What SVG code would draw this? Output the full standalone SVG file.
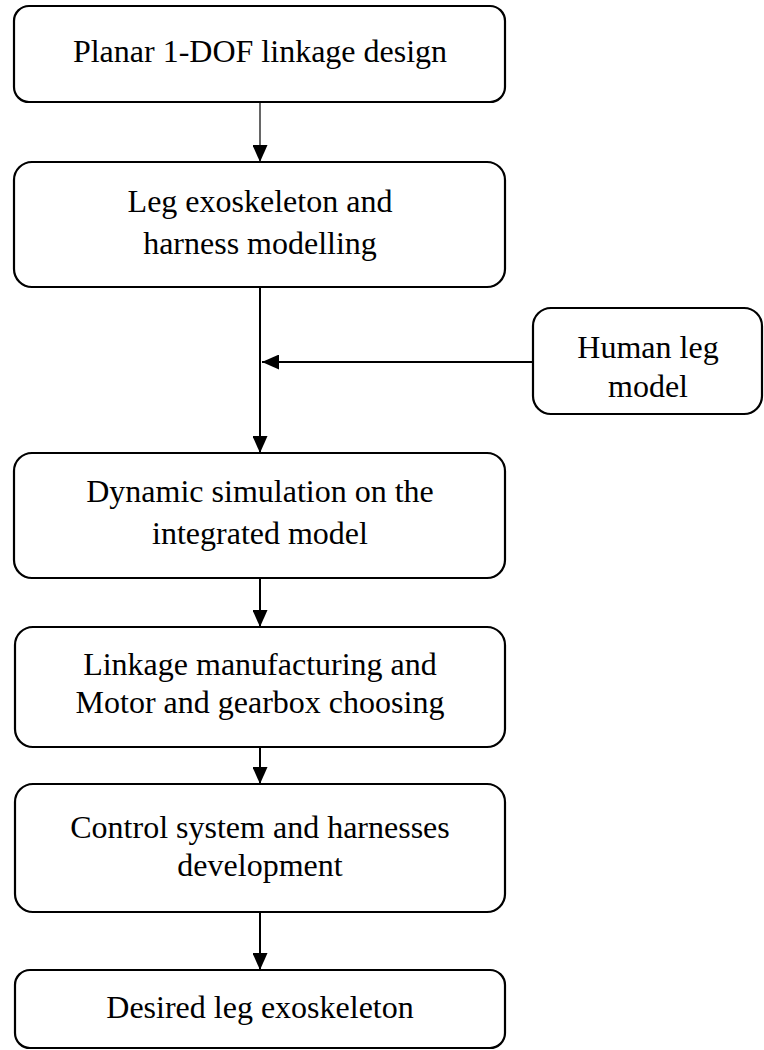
<svg xmlns="http://www.w3.org/2000/svg" width="764" height="1050" viewBox="0 0 764 1050">
  <defs>
    <!-- filled triangular head, drawn along +x so orient="auto" follows the line -->
    <marker id="arrow" viewBox="0 0 17 15" refX="17" refY="7.5" markerWidth="17" markerHeight="15" markerUnits="userSpaceOnUse" orient="auto">
      <path d="M0,0 L17,7.5 L0,15 Z" fill="#000"/>
    </marker>
  </defs>
  <style>
    .box { fill: #fff; stroke: #000; stroke-width: 2.2; }
    .lbl { font-family: "Liberation Serif", "Times New Roman", serif; font-size: 32px; fill: #000; text-anchor: middle; }
    .wire { stroke: #000; stroke-width: 2; fill: none; }
    .thin { stroke-width: 1.2; }
  </style>
  <rect width="764" height="1050" fill="#fff"/>

  <g id="connectors">
    <path class="wire thin" d="M260,103 V162" marker-end="url(#arrow)"/>
    <path class="wire" d="M260,287 V453" marker-end="url(#arrow)"/>
    <path class="wire" d="M533,362 H262" marker-end="url(#arrow)"/>
    <path class="wire" d="M260,578 V627" marker-end="url(#arrow)"/>
    <path class="wire" d="M260,747 V784" marker-end="url(#arrow)"/>
    <path class="wire" d="M260,912 V970" marker-end="url(#arrow)"/>
  </g>

  <g id="linkage-design">
    <rect class="box" x="14" y="6" width="491" height="96" rx="15"/>
    <text class="lbl" x="260" y="62">Planar 1-DOF linkage design</text>
  </g>

  <g id="exo-modelling">
    <rect class="box" x="14" y="162" width="491" height="125" rx="18"/>
    <text class="lbl" x="260" y="212">Leg exoskeleton and</text>
    <text class="lbl" x="260" y="254">harness modelling</text>
  </g>

  <g id="human-leg">
    <rect class="box" x="533" y="308" width="229" height="106" rx="18"/>
    <text class="lbl" x="648" y="358">Human leg</text>
    <text class="lbl" x="648" y="397">model</text>
  </g>

  <g id="dynamic-sim">
    <rect class="box" x="14" y="453" width="491" height="125" rx="18"/>
    <text class="lbl" x="260" y="502">Dynamic simulation on the</text>
    <text class="lbl" x="260" y="544">integrated model</text>
  </g>

  <g id="manufacturing">
    <rect class="box" x="15" y="627" width="490" height="120" rx="18"/>
    <text class="lbl" x="260" y="675">Linkage manufacturing and</text>
    <text class="lbl" x="260" y="713">Motor and gearbox choosing</text>
  </g>

  <g id="control-system">
    <rect class="box" x="15" y="784" width="490" height="128" rx="18"/>
    <text class="lbl" x="260" y="838">Control system and harnesses</text>
    <text class="lbl" x="260" y="876">development</text>
  </g>

  <g id="desired-exo">
    <rect class="box" x="15" y="970" width="490" height="78" rx="15"/>
    <text class="lbl" x="260" y="1018">Desired leg exoskeleton</text>
  </g>
</svg>
